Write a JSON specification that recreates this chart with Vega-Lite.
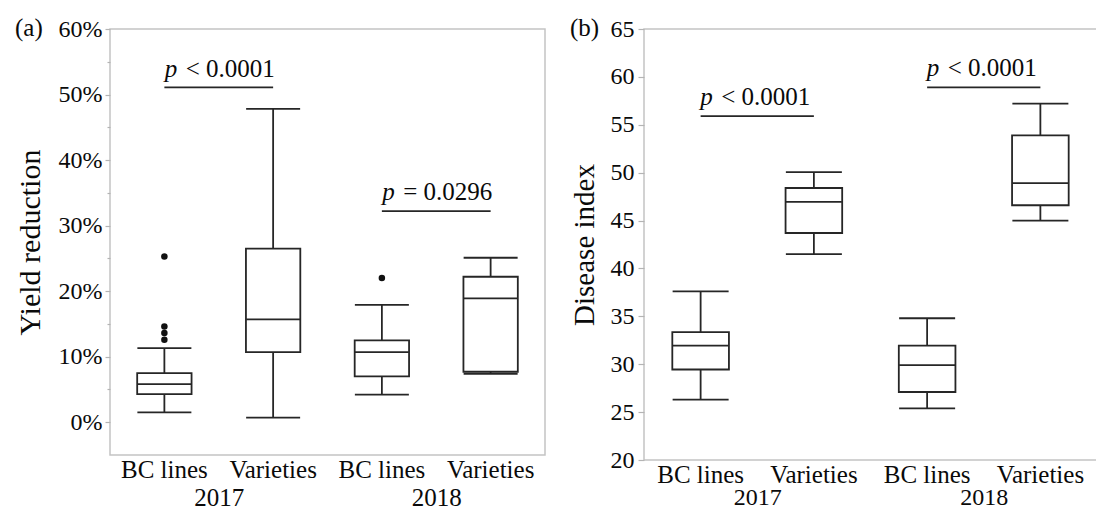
{
  "$schema": "https://vega.github.io/schema/vega-lite/v6.json",
  "background": "white",
  "padding": {"left": 14, "top": 15, "right": 0, "bottom": 0},
  "bounds": "flush",
  "spacing": 99,
  "config": {
    "font": "Liberation Serif",
    "view": {"stroke": "#c4c4c4", "strokeWidth": 1.5},
    "axis": {"grid": false, "domain": false, "labelFont": "Liberation Serif", "titleFont": "Liberation Serif", "labelColor": "#0a0a0a", "titleColor": "#0a0a0a", "titleFontWeight": "normal", "tickColor": "#b4b4b4", "tickWidth": 1.2},
    "title": {"font": "Liberation Serif", "fontWeight": "normal", "fontSize": 25, "color": "#0a0a0a", "anchor": "start", "frame": "bounds", "offset": -24}
  },
  "datasets": {
    "boxesA": [
      {"group": "2017 BC lines", "lo": 0.015, "q1": 0.043, "med": 0.058, "q3": 0.075, "hi": 0.113},
      {"group": "2017 Varieties", "lo": 0.007, "q1": 0.107, "med": 0.157, "q3": 0.265, "hi": 0.478},
      {"group": "2018 BC lines", "lo": 0.042, "q1": 0.070, "med": 0.107, "q3": 0.125, "hi": 0.179},
      {"group": "2018 Varieties", "lo": 0.074, "q1": 0.077, "med": 0.189, "q3": 0.222, "hi": 0.251}
    ],
    "outA": [
      {"group": "2017 BC lines", "v": 0.253},
      {"group": "2017 BC lines", "v": 0.146},
      {"group": "2017 BC lines", "v": 0.136},
      {"group": "2017 BC lines", "v": 0.126},
      {"group": "2018 BC lines", "v": 0.220}
    ],
    "annA": [
      {"year": "2017", "from": "2017 BC lines", "to": "2017 Varieties", "line": 0.511, "ty": 0.526, "rest": "< 0.0001"},
      {"year": "2018", "from": "2018 BC lines", "to": "2018 Varieties", "line": 0.322, "ty": 0.339, "rest": "= 0.0296"}
    ],
    "boxesB": [
      {"group": "2017 BC lines", "lo": 26.3, "q1": 29.45, "med": 31.95, "q3": 33.35, "hi": 37.6},
      {"group": "2017 Varieties", "lo": 41.5, "q1": 43.7, "med": 46.95, "q3": 48.4, "hi": 50.05},
      {"group": "2018 BC lines", "lo": 25.4, "q1": 27.1, "med": 29.9, "q3": 31.95, "hi": 34.8},
      {"group": "2018 Varieties", "lo": 45.0, "q1": 46.6, "med": 48.9, "q3": 53.9, "hi": 57.2}
    ],
    "annB": [
      {"year": "2017", "from": "2017 BC lines", "to": "2017 Varieties", "line": 55.9, "ty": 57.1, "rest": "< 0.0001"},
      {"year": "2018", "from": "2018 BC lines", "to": "2018 Varieties", "line": 58.9, "ty": 60.1, "rest": "< 0.0001"}
    ]
  },
  "hconcat": [
    {
      "width": 435,
      "height": 426,
      "title": {"text": "(a)"},
      "layer": [
        {
          "encoding": {
            "x": {"field": "group", "type": "nominal", "scale": {"domain": ["2017 BC lines", "2017 Varieties", "2018 BC lines", "2018 Varieties"], "paddingInner": 0, "paddingOuter": 0},
                  "axis": {"orient": "bottom", "title": null, "labelExpr": "slice(datum.value, 5)", "ticks": false, "labelFontSize": 25, "labelPadding": 2, "labelAngle": 0}}
          },
          "layer": [
            {"data": {"name": "boxesA"}, "mark": {"type": "rule", "color": "#262626", "strokeWidth": 1.8},
             "encoding": {"y": {"field": "lo", "type": "quantitative", "title": "Yield reduction", "scale": {"domain": [-0.05, 0.6], "nice": false, "zero": false},
                                "axis": {"orient": "left", "values": [0, 0.1, 0.2, 0.3, 0.4, 0.5, 0.6], "format": ".0%", "labelFontSize": 24, "titleFontSize": 30, "tickSize": 5, "labelPadding": 3, "titlePadding": 13}},
                          "y2": {"field": "hi"}}},
            {"data": {"name": "boxesA"}, "mark": {"type": "bar", "fill": "white", "stroke": "#262626", "strokeWidth": 1.8, "width": {"band": 0.5}},
             "encoding": {"y": {"field": "q1", "type": "quantitative", "title": "Yield reduction"}, "y2": {"field": "q3"}}},
            {"data": {"name": "boxesA"}, "mark": {"type": "tick", "color": "#262626", "opacity": 1, "thickness": 1.8, "size": 54},
             "encoding": {"y": {"field": "med", "type": "quantitative", "title": "Yield reduction"}}},
            {"data": {"name": "boxesA"}, "mark": {"type": "tick", "color": "#262626", "opacity": 1, "thickness": 1.8, "size": 54},
             "encoding": {"y": {"field": "lo", "type": "quantitative", "title": "Yield reduction"}}},
            {"data": {"name": "boxesA"}, "mark": {"type": "tick", "color": "#262626", "opacity": 1, "thickness": 1.8, "size": 54},
             "encoding": {"y": {"field": "hi", "type": "quantitative", "title": "Yield reduction"}}},
            {"data": {"name": "outA"}, "mark": {"type": "point", "filled": true, "color": "#111111", "size": 42, "opacity": 1},
             "encoding": {"y": {"field": "v", "type": "quantitative", "title": "Yield reduction"}}},
            {"data": {"name": "annA"}, "mark": {"type": "rule", "color": "#262626", "strokeWidth": 1.8},
             "encoding": {"x": {"field": "from", "type": "nominal"}, "x2": {"field": "to"}, "y": {"field": "line", "type": "quantitative", "title": "Yield reduction"}}}
          ]
        },
        {
          "data": {"name": "annA"},
          "encoding": {
            "x": {"field": "year", "type": "nominal", "scale": {"domain": ["2017", "2018"], "paddingInner": 0, "paddingOuter": 0},
                  "axis": {"orient": "bottom", "title": null, "ticks": false, "labelFontSize": 25, "labelPadding": 30, "labelAngle": 0}},
            "y": {"field": "ty", "type": "quantitative", "scale": {"domain": [-0.05, 0.6], "nice": false, "zero": false},
                  "axis": {"orient": "left", "values": [0.05, 0.15, 0.25, 0.35, 0.45, 0.55], "labels": false, "title": null, "tickSize": 3}}
          },
          "layer": [
            {"mark": {"type": "text", "fontStyle": "italic", "fontSize": 25, "align": "left", "baseline": "alphabetic", "dx": -54, "color": "#0a0a0a"},
             "encoding": {"text": {"value": "p"}}},
            {"mark": {"type": "text", "fontSize": 25, "align": "left", "baseline": "alphabetic", "dx": -33, "color": "#0a0a0a"},
             "encoding": {"text": {"field": "rest"}}}
          ]
        }
      ],
      "resolve": {"scale": {"x": "independent"}, "axis": {"x": "independent", "y": "independent"}}
    },
    {
      "width": 453,
      "height": 431,
      "title": {"text": "(b)"},
      "layer": [
        {
          "encoding": {
            "x": {"field": "group", "type": "nominal", "scale": {"domain": ["2017 BC lines", "2017 Varieties", "2018 BC lines", "2018 Varieties"], "paddingInner": 0, "paddingOuter": 0},
                  "axis": {"orient": "bottom", "title": null, "labelExpr": "slice(datum.value, 5)", "ticks": false, "labelFontSize": 25, "labelPadding": 2, "labelAngle": 0}}
          },
          "layer": [
            {"data": {"name": "boxesB"}, "mark": {"type": "rule", "color": "#262626", "strokeWidth": 1.8},
             "encoding": {"y": {"field": "lo", "type": "quantitative", "title": "Disease index", "scale": {"domain": [20, 65], "nice": false, "zero": false},
                                "axis": {"orient": "left", "values": [20, 25, 30, 35, 40, 45, 50, 55, 60, 65], "labelFontSize": 24, "titleFontSize": 29, "tickSize": 6, "labelPadding": 4, "titlePadding": 11}},
                          "y2": {"field": "hi"}}},
            {"data": {"name": "boxesB"}, "mark": {"type": "bar", "fill": "white", "stroke": "#262626", "strokeWidth": 1.8, "width": {"band": 0.5}},
             "encoding": {"y": {"field": "q1", "type": "quantitative", "title": "Disease index"}, "y2": {"field": "q3"}}},
            {"data": {"name": "boxesB"}, "mark": {"type": "tick", "color": "#262626", "opacity": 1, "thickness": 1.8, "size": 56},
             "encoding": {"y": {"field": "med", "type": "quantitative", "title": "Disease index"}}},
            {"data": {"name": "boxesB"}, "mark": {"type": "tick", "color": "#262626", "opacity": 1, "thickness": 1.8, "size": 56},
             "encoding": {"y": {"field": "lo", "type": "quantitative", "title": "Disease index"}}},
            {"data": {"name": "boxesB"}, "mark": {"type": "tick", "color": "#262626", "opacity": 1, "thickness": 1.8, "size": 56},
             "encoding": {"y": {"field": "hi", "type": "quantitative", "title": "Disease index"}}},
            {"data": {"name": "annB"}, "mark": {"type": "rule", "color": "#262626", "strokeWidth": 1.8},
             "encoding": {"x": {"field": "from", "type": "nominal"}, "x2": {"field": "to"}, "y": {"field": "line", "type": "quantitative", "title": "Disease index"}}}
          ]
        },
        {
          "data": {"name": "annB"},
          "encoding": {
            "x": {"field": "year", "type": "nominal", "scale": {"domain": ["2017", "2018"], "paddingInner": 0, "paddingOuter": 0},
                  "axis": {"orient": "bottom", "title": null, "ticks": false, "labelFontSize": 24, "labelPadding": 25, "labelAngle": 0}},
            "y": {"field": "ty", "type": "quantitative", "scale": {"domain": [20, 65], "nice": false, "zero": false}, "axis": null}
          },
          "layer": [
            {"mark": {"type": "text", "fontStyle": "italic", "fontSize": 25, "align": "left", "baseline": "alphabetic", "dx": -57, "color": "#0a0a0a"},
             "encoding": {"text": {"value": "p"}}},
            {"mark": {"type": "text", "fontSize": 25, "align": "left", "baseline": "alphabetic", "dx": -36, "color": "#0a0a0a"},
             "encoding": {"text": {"field": "rest"}}}
          ]
        }
      ],
      "resolve": {"scale": {"x": "independent"}, "axis": {"x": "independent", "y": "independent"}}
    }
  ]
}
